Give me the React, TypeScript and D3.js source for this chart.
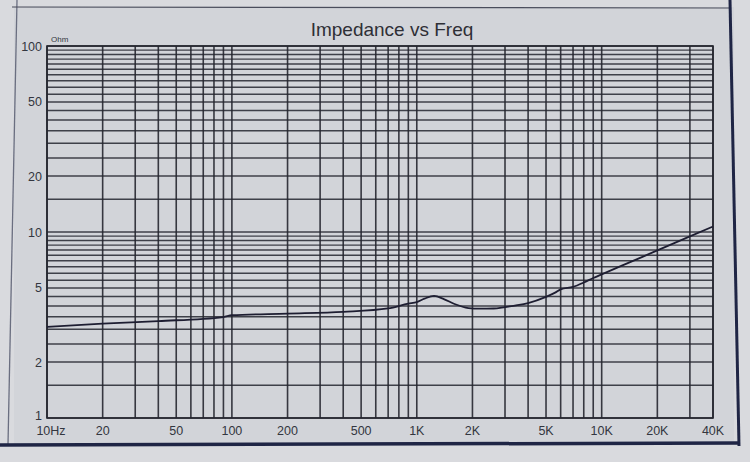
import React from "react";
import * as d3 from "d3";

const freqs = [10, 20, 40, 90, 100, 200, 400, 700, 900, 1000, 1100, 1240, 1400, 1600, 1900, 2200, 2600, 3000, 3500, 4000, 5000, 5600, 6000, 7000, 8000, 9000, 10000, 15000, 20000, 30000, 40000];
const impedance = [3.09, 3.22, 3.32, 3.49, 3.57, 3.64, 3.72, 3.88, 4.12, 4.2, 4.38, 4.53, 4.36, 4.1, 3.9, 3.87, 3.88, 3.95, 4.04, 4.15, 4.48, 4.72, 4.92, 5.07, 5.35, 5.66, 5.92, 7.04, 7.96, 9.48, 10.7];

const xTickValues = [10, 20, 50, 100, 200, 500, 1000, 2000, 5000, 10000, 20000, 40000];
const xTickLabels = ["10Hz", "20", "50", "100", "200", "500", "1K", "2K", "5K", "10K", "20K", "40K"];
const yTickValues = [1, 2, 5, 10, 20, 50, 100];
const yTickLabels = ["1", "2", "5", "10", "20", "50", "100"];

const W = 750;
const H = 462;
const M = { left: 47, right: 713, top: 46, bottom: 418 };

export default function App() {
  const x = d3.scaleLog().domain([10, 40000]).range([M.left, M.right]);
  const y = d3.scaleLog().domain([1, 100]).range([M.bottom, M.top]);

  const vGrid: number[] = [];
  [10, 100, 1000].forEach((d) => {
    for (let k = 1; k <= 9; k++) vGrid.push(d * k);
  });
  [10000, 20000, 30000, 40000].forEach((v) => vGrid.push(v));

  const hGrid: number[] = [];
  for (let v = 1; v <= 10.001; v += 0.5) hGrid.push(v);
  for (let v = 15; v <= 100.001; v += 5) hGrid.push(v);

  const line = d3
    .line<number>()
    .x((_, i) => x(freqs[i]))
    .y((d) => y(d))
    .curve(d3.curveMonotoneX);

  const gridColor = "#25262f";
  const font = "'Liberation Sans', Arial, sans-serif";

  return (
    <svg width={W} height={H} style={{ display: "block", position: "absolute", left: 0, top: 0 }}>
      <rect x={0} y={0} width={W} height={H} fill="#d9dade" />
      <rect x={14} y={7} width={720} height={437} fill="#d2d4d9" />
      {/* frame */}
      <line x1={17} y1={0} x2={8} y2={445} stroke="#6a6e80" strokeWidth={1.3} />
      <line x1={12} y1={7} x2={730} y2={8} stroke="#4a4d5c" strokeWidth={1.2} />
      <line x1={730} y1={0} x2={739} y2={446} stroke="#1f2545" strokeWidth={3} />
      <line x1={0} y1={445} x2={739} y2={443} stroke="#1f2545" strokeWidth={3.5} />

      <text x={392} y={36} textAnchor="middle" fontFamily={font} fontSize={19} fill="#2e2f36">
        Impedance vs Freq
      </text>

      {/* grid */}
      <g>
        {hGrid.map((v, i) => (
          <line
            key={"h" + i}
            x1={M.left}
            x2={M.right}
            y1={y(v)}
            y2={y(v)}
            stroke={gridColor}
            strokeWidth={1.4}
            strokeOpacity={0.85}
          />
        ))}
        {vGrid.map((v, i) => (
          <line
            key={"v" + i}
            x1={x(v)}
            x2={x(v)}
            y1={M.top}
            y2={M.bottom}
            stroke={gridColor}
            strokeWidth={1.6}
            strokeOpacity={0.9}
          />
        ))}
        <rect
          x={M.left}
          y={M.top}
          width={M.right - M.left}
          height={M.bottom - M.top}
          fill="none"
          stroke={gridColor}
          strokeWidth={1.6}
        />
      </g>

      {/* curve */}
      <path d={line(impedance) || ""} fill="none" stroke="#1e1e32" strokeWidth={1.8} />

      {/* y labels */}
      {yTickValues.map((v, i) => (
        <text
          key={"yl" + i}
          x={M.left - 5}
          y={y(v) + (i === 0 ? 2 : 4.5)}
          textAnchor="end"
          fontFamily={font}
          fontSize={12.5}
          fill="#333640"
        >
          {yTickLabels[i]}
        </text>
      ))}
      <text x={M.left + 4} y={42} fontFamily={font} fontSize={8} fill="#333640">
        Ohm
      </text>

      {/* x labels */}
      {xTickValues.map((v, i) => (
        <text
          key={"xl" + i}
          x={x(v) + (i === 0 ? 4 : 0)}
          y={435}
          textAnchor="middle"
          fontFamily={font}
          fontSize={12.5}
          fill="#333640"
        >
          {xTickLabels[i]}
        </text>
      ))}
    </svg>
  );
}
